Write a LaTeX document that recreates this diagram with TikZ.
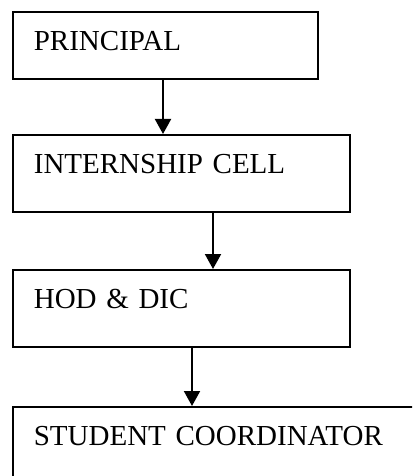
\documentclass[tikz,border=0pt]{standalone}
\usepackage{fontspec}
\setmainfont{Liberation Serif}
\usetikzlibrary{arrows.meta}
\tikzset{
  box/.style={draw, line width=1.7pt, anchor=north west, inner xsep=21pt, inner ysep=0pt,
    text height=39pt, text depth=38pt, text width=#1, align=left,
    font=\fontsize{29}{34}\selectfont},
  arr/.style={line width=2pt, -{Triangle[width=16pt,length=15pt]}}
}
\begin{document}
\begin{tikzpicture}[x=1pt,y=-1pt]
\useasboundingbox (0,0) rectangle (412,476);
\clip (0,0) rectangle (412,476);
\node [box=263pt, text depth=28pt] (principal) at (12,11) {PRINCIPAL};
\node [box=295pt] (cell) at (12,134) {INTERNSHIP CELL};
\node [box=295pt] (hod) at (12,269) {HOD \& DIC};
\node [box=380pt] (coord) at (12,406) {STUDENT COORDINATOR};
\coordinate (c1) at (163,0);
\coordinate (c2) at (213,0);
\coordinate (c3) at (192,0);
\draw [arr] (principal.south -| c1) -- (cell.north -| c1);
\draw [arr] (cell.south -| c2) -- (hod.north -| c2);
\draw [arr] (hod.south -| c3) -- (coord.north -| c3);
\end{tikzpicture}
\end{document}
